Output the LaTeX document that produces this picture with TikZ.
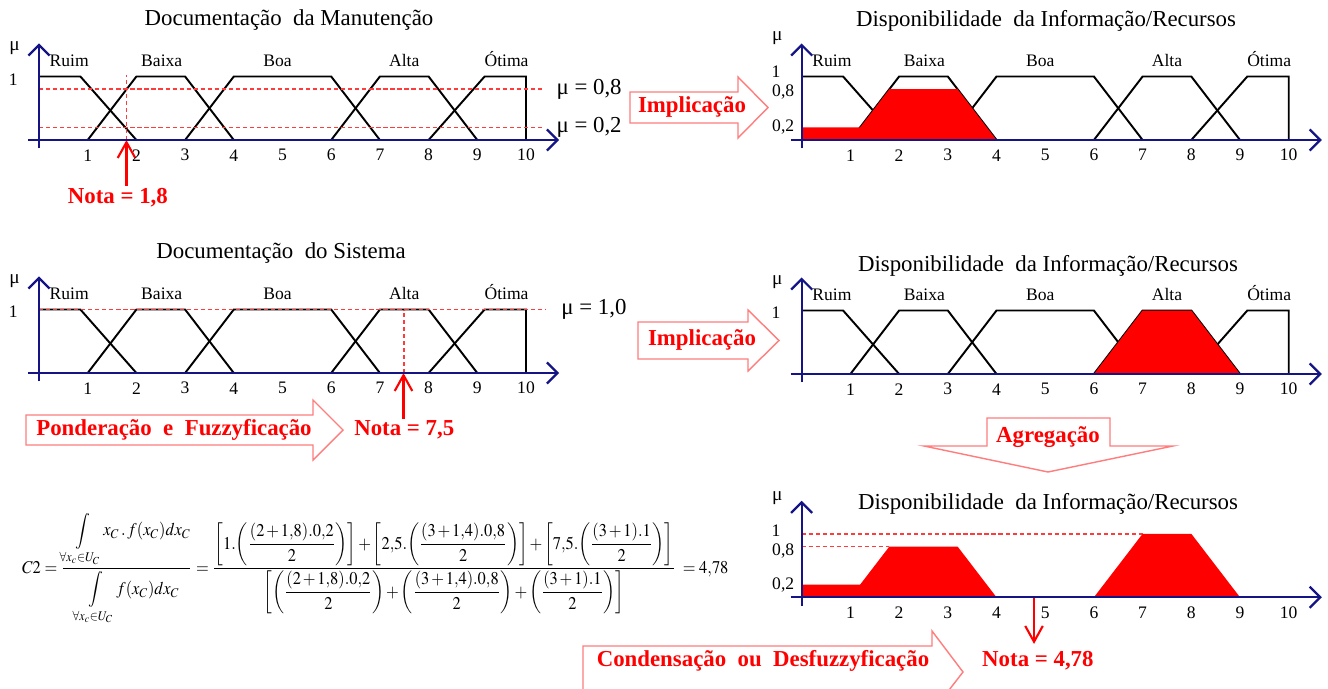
\documentclass[tikz,border=0pt]{standalone}
\usepackage{amsmath}
\usepackage{mathptmx}
\usepackage{fontspec}
\setmainfont{Liberation Serif}
\usetikzlibrary{arrows.meta}

\definecolor{axisblue}{RGB}{20,20,135}
\definecolor{steprim}{RGB}{255,125,125}
\definecolor{cutred}{RGB}{255,60,60}

\tikzset{
  chart/.style 2 args={shift={(#1,#2)}, xscale=48.7, yscale=-63.5},
  axisline/.style={axisblue, line width=1.3pt, -{Straight Barb[length=6pt,width=12pt]}},
  mf/.style={black, line width=1.1pt},
  cutline/.style={cutred, dash pattern=on 2.4pt off 1.6pt, line width=0.9pt},
  area/.style={fill=red},
  notaarrow/.style={red, line width=1.2pt, -{Straight Barb[length=9pt,width=10pt]}},
  nota/.style={red, inner sep=1pt, font=\fontsize{13}{15}\selectfont\bfseries},
  stepbox/.style={draw=steprim, fill=white, line width=0.8pt},
  steplabel/.style={red, font=\fontsize{13}{15}\selectfont\bfseries},
  charttitle/.style={font=\fontsize{13}{15}\selectfont},
  setname/.style={anchor=base, font=\fontsize{10}{12}\selectfont},
  ticklabel/.style={font=\fontsize{10}{12}\selectfont},
  mulabel/.style={anchor=west, font=\fontsize{13}{15}\selectfont},
}

\begin{document}
\begin{tikzpicture}[x=0.02cm, y=-0.02cm]
  \useasboundingbox (0,0) rectangle (1328,689);

  % Chart titles
  \node[charttitle] (title-man) at (289,20) {Documentação~ da Manutenção};
  \node[charttitle] (title-infoA) at (1046,21) {Disponibilidade~ da Informação/Recursos};
  \node[charttitle] (title-sis) at (281,253) {Documentação~ do Sistema};
  \node[charttitle] (title-infoB) at (1048,266) {Disponibilidade~ da Informação/Recursos};
  \node[charttitle] (title-infoC) at (1048,504) {Disponibilidade~ da Informação/Recursos};

  % Membership functions
  \foreach \ox/\oy/\nm in {39/140/man, 801.7/140/infoA, 39/373/sis, 801.7/374/infoB} {
    \begin{scope}[chart={\ox}{\oy}]
      \draw[mf] (0,1) -- (0.85,1) -- (2,0);
      \draw[mf] (1,0) -- (2,1) -- (3,1) -- (4,0);
      \draw[mf] (3,0) -- (4,1) -- (6,1) -- (7,0);
      \draw[mf] (6,0) -- (7,1) -- (8,1) -- (9,0);
      \draw[mf] (8,0) -- (9.15,1) -- (10,1) -- (10,0);
      \foreach \t/\lx [count=\i] in {Ruim/0.62, Baixa/2.52, Boa/4.9, Alta/7.5, Ótima/9.6}
        \node[setname] (\nm-\i) at (\lx,1.16) {\t};
    \end{scope}
  }

  % Fuzzyfication of the first grade
  \begin{scope}[chart={39}{140}]
    \draw[cutline] (0,0.8) -- (10.35,0.8);
    \draw[cutline] (0,0.2) -- (10.35,0.2);
    \draw[cutline] (1.8,0) -- (1.8,1.02);
    \node[mulabel] (mu-08) at (10.5,0.8) {μ = 0,8};
    \node[mulabel] (mu-02) at (10.5,0.2) {μ = 0,2};
    \coordinate (man-x) at (1.8,0);
    \node[nota] (nota-man) at (1.62,-0.91) {Nota = 1,8};
    \draw[notaarrow] (nota-man.north -| man-x) -- (man-x);
  \end{scope}

  % Fuzzyfication of the second grade
  \begin{scope}[chart={39}{373}]
    \draw[cutline] (0,1) -- (10.4,1);
    \draw[cutline] (7.5,0) -- (7.5,1);
    \node[mulabel] (mu-10) at (10.6,1) {μ = 1,0};
    \coordinate (sis-x) at (7.5,0);
    \node[nota] (nota-sis) at (7.5,-0.9) {Nota = 7,5};
    \draw[notaarrow] (nota-sis.north) -- (sis-x);
  \end{scope}

  % Implication results
  \begin{scope}[chart={801.7}{140}]
    \fill[area] (0,0) -- (0,0.2) -- (1.2,0.2) -- (1.8,0.8) -- (3.2,0.8) -- (4,0) -- cycle;
    \node[ticklabel] (infoA-08) at (-0.38,0.76) {0,8};
    \node[ticklabel] (infoA-02) at (-0.38,0.2) {0,2};
  \end{scope}
  \begin{scope}[chart={801.7}{374}]
    \fill[area] (6,0) -- (7,1) -- (8,1) -- (9,0) -- cycle;
  \end{scope}

  % Aggregation and defuzzyfication
  \begin{scope}[chart={801.7}{597.3}]
    \draw[cutline] (0,1) -- (7,1);
    \draw[cutline] (0,0.8) -- (1.8,0.8);
    \fill[area] (0,0) -- (0,0.2) -- (1.2,0.2) -- (1.8,0.8) -- (3.2,0.8) -- (4,0) -- cycle;
    \fill[area] (6,0) -- (7,1) -- (8,1) -- (9,0) -- cycle;
    \node[ticklabel] (infoC-08) at (-0.38,0.73) {0,8};
    \node[ticklabel] (infoC-02) at (-0.38,0.19) {0,2};
    \coordinate (infoC-x) at (4.78,0);
    \node[nota] (nota-infoC) at (4.85,-1.0) {Nota = 4,78};
    \draw[notaarrow, shorten >=3pt] (infoC-x) -- (nota-infoC.north -| infoC-x);
  \end{scope}

  % Axes
  \foreach \ox/\oy/\nm/\muy/\oney in {39/140/man/1.45/0.95, 801.7/140/infoA/1.6/1.07,
      39/373/sis/1.44/0.96, 801.7/374/infoB/1.45/0.96, 801.7/597.3/infoC/1.56/1.05} {
    \begin{scope}[chart={\ox}{\oy}]
      \draw[axisline] (-0.23,0) -- (10.68,0);
      \draw[axisline] (0,-0.13) -- (0,1.52);
      \node[font=\fontsize{11}{13}\selectfont] (\nm-mu) at (-0.5,\muy) {μ};
      \node[ticklabel] (\nm-one) at (-0.53,\oney) {1};
      \foreach \k in {1,...,10}
        \node[ticklabel] (\nm-t\k) at (\k,-0.24) {\k};
    \end{scope}
  }

  % Process steps
  \draw[stepbox] (630,92) -- (738,92) -- (738,77) -- (768,107.5) -- (738,138) -- (738,123) -- (630,123) -- cycle;
  \node[steplabel] (impl-a) at (692,107) {Implicação};
  \draw[stepbox] (638,322) -- (748,322) -- (748,310) -- (779,340.5) -- (748,371) -- (748,359) -- (638,359) -- cycle;
  \node[steplabel] (impl-b) at (702,340) {Implicação};
  \draw[stepbox] (26,415) -- (313,415) -- (313,400) -- (343,430) -- (313,460) -- (313,445) -- (26,445) -- cycle;
  \node[steplabel] (pond) at (174,430) {Ponderação~ e~ Fuzzyficação};
  \draw[stepbox] (987,418) -- (1110,418) -- (1110,446) -- (1173,446) -- (1048,472) -- (924,446) -- (987,446) -- cycle;
  \node[steplabel] (agreg) at (1048,437) {Agregação};
  \begin{scope}
    \clip (0,0) rectangle (1328,689);
    \draw[stepbox] (583,646) -- (932,646) -- (932,631) -- (963,672) -- (932,712) -- (932,697) -- (583,697) -- cycle;
  \end{scope}
  \node[steplabel] (cond) at (763,661) {Condensação~ ou~ Desfuzzyficação};

  % Centre of gravity
  \node[anchor=west, font=\fontsize{10}{12}\selectfont] (formula) at (16,569) {\scalebox{0.935}[1.02]{\medmuskip=2mu
    $\displaystyle
    C2=\frac{\displaystyle\int\limits_{\forall x_c\in U_C}\! x_C\,.\,f(x_C)dx_C\rule[-3pt]{0pt}{0pt}}
            {\rule{0pt}{13pt}\displaystyle\int\limits_{\forall x_c\in U_C}\! f(x_C)dx_C}
    ={\frac{{\left[1.{\left(\dfrac{(2+1{,}8).0{,}2}{2}\right)}\right]}
          +{\left[2{,}5.{\left(\dfrac{(3+1{,}4).0{,}8}{2}\right)}\right]}
          +{\left[7{,}5.{\left(\dfrac{(3+1).1}{2}\right)}\right]}}
          {{\left[{\left(\dfrac{(2+1{,}8).0{,}2}{2}\right)}
          +{\left(\dfrac{(3+1{,}4).0{,}8}{2}\right)}
          +{\left(\dfrac{(3+1).1}{2}\right)}\right]}}}\;=4{,}78$}};
\end{tikzpicture}
\end{document}
